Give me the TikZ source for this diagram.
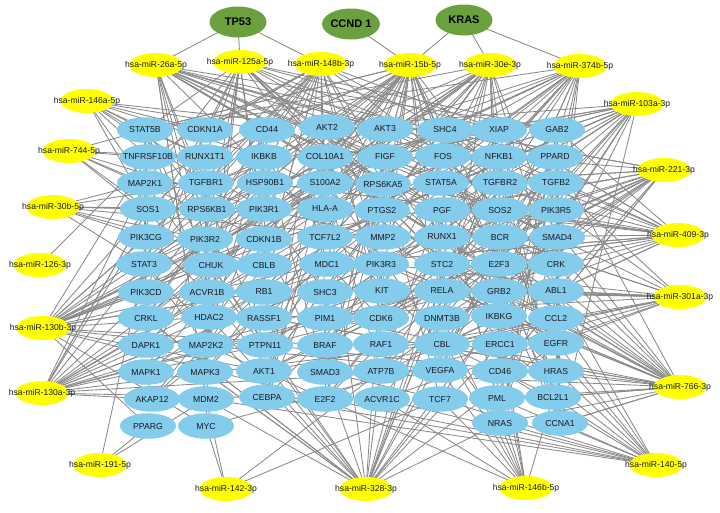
\documentclass[tikz,border=0pt]{standalone}
\usepackage{fontspec}
\setmainfont{Liberation Sans}
\usetikzlibrary{shapes.geometric}
\definecolor{genec}{RGB}{132,204,236}
\definecolor{mirc}{RGB}{255,255,0}
\definecolor{hubc}{RGB}{106,161,62}
\definecolor{edgec}{RGB}{138,138,138}
\definecolor{txtc}{RGB}{25,25,35}
\pgfdeclarelayer{back}
\pgfdeclarelayer{edges}
\pgfsetlayers{back,edges,main}
\begin{document}
\begin{tikzpicture}[x=1pt,y=-1pt,
  gene/.style={ellipse, fill=genec, minimum width=56pt, minimum height=25.5pt, inner sep=0pt, text=txtc, font=\fontsize{8.7}{9}\selectfont},
  mir/.style={ellipse, fill=mirc, minimum width=53pt, minimum height=24pt, inner sep=0pt, text=txtc, font=\fontsize{8.6}{9}\selectfont},
  hub/.style={ellipse, fill=hubc, minimum width=57pt, minimum height=31pt, inner sep=0pt, text=black, font=\bfseries\fontsize{11}{12}\selectfont},
  link/.style={draw=edgec, line width=0.85pt}]
\begin{pgfonlayer}{back}
\fill[white] (0,0) rectangle (720,512);
\end{pgfonlayer}
\useasboundingbox (0,0) rectangle (720,512);

% hubs
\node[hub] (TP53) at (238,22) {TP53};
\node[hub] (CCND1) at (351,24) {CCND 1};
\node[hub] (KRAS) at (464,20) {KRAS};

% miRNAs
\foreach \n/\x/\y/\t in {
  m26a/156/65/hsa-miR-26a-5p, m125a/240/62/hsa-miR-125a-5p, m148b/321/64/hsa-miR-148b-3p,
  m15b/410/65/hsa-miR-15b-5p, m30e/490/65/hsa-miR-30e-3p, m374b/580/66/hsa-miR-374b-5p,
  m103a/637/104/hsa-miR-103a-3p, m146a/87/101/hsa-miR-146a-5p, m744/69/151/hsa-miR-744-5p,
  m30b/53/207/hsa-miR-30b-5p, m126/40/265/hsa-miR-126-3p, m221/664/170/hsa-miR-221-3p,
  m409/678/235/hsa-miR-409-3p, m301a/680/297/hsa-miR-301a-3p, m130b/43/328/hsa-miR-130b-3p,
  m766/680/387/hsa-miR-766-3p, m130a/42/393/hsa-miR-130a-3p, m140/656/465/hsa-miR-140-5p,
  m191/100/465/hsa-miR-191-5p, m142/226/489/hsa-miR-142-3p, m328/366/489/hsa-miR-328-3p,
  m146b/526/488/hsa-miR-146b-5p}
  \node[mir] (\n) at (\x,\y) {\makebox[0pt]{\t}};

% genes
\foreach \name/\x/\y [count=\i] in {
  STAT5B/145/130, TNFRSF10B/148/157, MAP2K1/145/183, SOS1/148/209, PIK3CG/146/237, STAT3/144/264,
  PIK3CD/146/292, CRKL/146/318, DAPK1/146/345, MAPK1/146/372, AKAP12/152/399, PPARG/148/426,
  CDKN1A/205/130, RUNX1T1/205/157, TGFBR1/206/183, RPS6KB1/207/209, PIK3R2/205/239, CHUK/211/265,
  ACVR1B/207/292, HDAC2/209/317, MAP2K2/206/345, MAPK3/205/372, MDM2/206/399, MYC/206/426,
  CD44/267/130, IKBKB/264/157, HSP90B1/265/183, PIK3R1/264/209, CDKN1B/264/239, CBLB/264/265,
  RB1/264/292, RASSF1/264/318, PTPN11/265/345, AKT1/264/371, CEBPA/267/397,
  AKT2/327/127, COL10A1/325/157, S100A2/325/183, HLA-A/325/209, TCF7L2/325/237, MDC1/327/264,
  SHC3/325/292, PIM1/325/318, BRAF/325/345, SMAD3/325/372, E2F2/325/399,
  AKT3/385/129, FIGF/385/157, RPS6KA5/383/184, PTGS2/382/210, MMP2/383/237, PIK3R3/381/264,
  KIT/382/291, CDK6/381/318, RAF1/381/344, ATP7B/381/371, ACVR1C/382/399,
  SHC4/445/130, FOS/443/156, STAT5A/441/183, PGF/442/210, RUNX1/442/237, STC2/442/264,
  RELA/442/291, DNMT3B/442/318, CBL/442/344, VEGFA/440/370, TCF7/440/399,
  XIAP/499/130, NFKB1/499/157, TGFBR2/500/183, SOS2/500/210, BCR/500/237, E2F3/499/264,
  GRB2/499/291, IKBKG/499/316, ERCC1/500/344, CD46/500/371, PML/497/398, NRAS/500/423,
  GAB2/557/130, PPARD/555/157, TGFB2/556/183, PIK3R5/556/210, SMAD4/557/237, CRK/556/264,
  ABL1/556/291, CCL2/556/318, EGFR/556/343, HRAS/556/371, BCL2L1/553/397, CCNA1/560/423}
  \node[gene, alias=g\i] (\name) at (\x,\y) {\makebox[0pt]{\name}};

\begin{pgfonlayer}{edges}
  % hub links
  \foreach \a/\b in {TP53/m26a, TP53/m125a, TP53/m148b, CCND1/m15b, KRAS/m15b, KRAS/m30e, KRAS/m374b}
    \draw[link] (\a.center) -- (\b.center);
  % sparse miRNAs
  \foreach \m/\g in {m126/TNFRSF10B,
    m191/PPARG, m191/STAT3, m191/MDM2,
    m142/MYC, m142/MDM2, m142/ATP7B, m142/TCF7,
    m146b/NRAS, m146b/PML, m146b/CD46, m146b/ERCC1, m146b/TCF7, m146b/VEGFA, m146b/ACVR1C,
    m146b/CBL, m146b/DNMT3B, m146b/IKBKG, m146b/BCL2L1, m146b/E2F2,
    m140/CCNA1, m140/BCL2L1, m140/HRAS, m140/EGFR, m140/CCL2, m140/ABL1, m140/CD46, m140/PML,
    m140/NRAS, m140/TCF7, m140/ACVR1C, m140/E2F2, m140/CEBPA, m140/MDM2, m140/ERCC1, m140/GRB2,
    m744/STAT5B, m744/TNFRSF10B, m744/MAP2K1, m744/SOS1, m744/RUNX1T1, m744/PIK3R1, m744/CDKN1B, m744/CHUK,
    m30b/SOS1, m30b/PIK3CG, m30b/STAT3, m30b/MAP2K1, m30b/RPS6KB1, m30b/PIK3R2, m30b/HLA-A,
    m30b/CBLB, m30b/TGFBR1, m30b/MMP2,
    m146a/STAT5B, m146a/CDKN1A, m146a/TNFRSF10B, m146a/MAP2K1, m146a/RUNX1T1, m146a/IKBKB,
    m146a/AKT2, m146a/SOS1, m146a/TGFBR1, m146a/CD44, m146a/PIK3R1}
    \draw[link] (\m.center) -- (\g.center);
  % dense miRNAs
  \pgfmathsetseed{1234}
  \foreach \m/\c/\lo/\hi in {m26a/22/1/92, m125a/22/1/92, m148b/25/1/92, m15b/32/1/92,
      m30e/25/1/92, m374b/22/1/92, m103a/22/24/92, m221/22/24/92, m409/22/24/92,
      m301a/20/24/92, m766/28/24/92, m130b/26/1/70, m130a/22/1/70, m328/26/1/92} {
    \foreach \k in {1,...,\c} {
      \pgfmathrandominteger{\gi}{\lo}{\hi}
      \draw[link] (\m.center) -- (g\gi.center);
    }
  }
  % gene-gene links
  \foreach \k in {1,...,110} {
    \pgfmathrandominteger{\ga}{1}{92}
    \pgfmathrandominteger{\go}{-26}{26}
    \pgfmathtruncatemacro{\gb}{max(1,min(92,\ga+\go))}
    \draw[link] (g\ga.center) -- (g\gb.center);
  }
\end{pgfonlayer}
\end{tikzpicture}
\end{document}
